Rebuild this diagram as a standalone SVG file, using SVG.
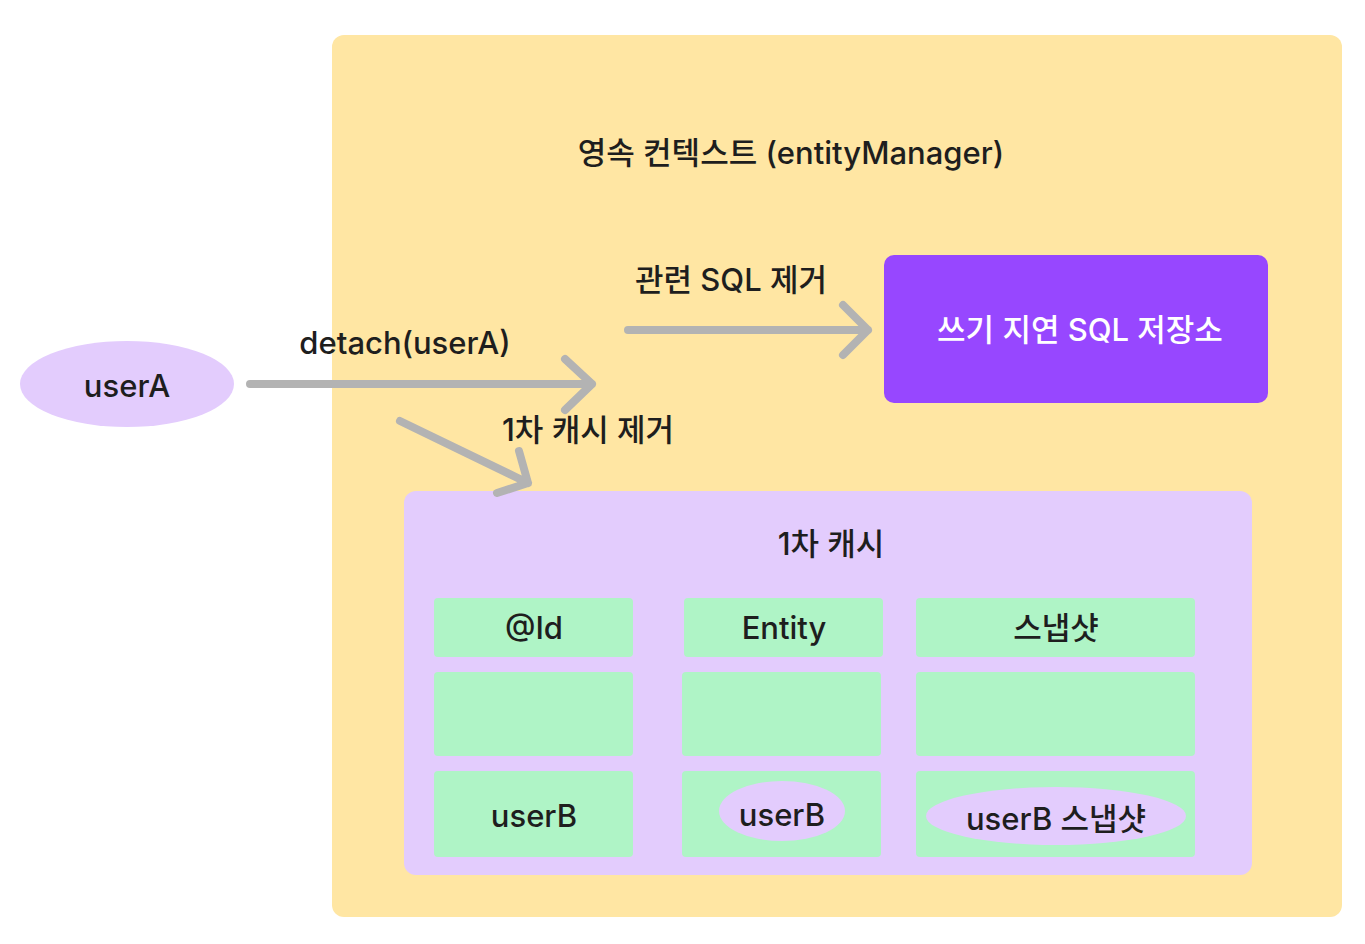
<svg xmlns="http://www.w3.org/2000/svg" width="1365" height="944" viewBox="0 0 1365 944">
<style>
text{font-family:Inter,"Noto Sans CJK KR",sans-serif;font-size:31px;font-weight:500;fill:#1E1E1E;text-anchor:middle;dominant-baseline:central}
.cell{fill:#AFF4C6}
.lav{fill:#E3CCFD}
.arr{fill:none;stroke:#B3B3B3;stroke-width:8;stroke-linecap:round;stroke-linejoin:round}
</style>
<rect width="1365" height="944" fill="#FFFFFF"/>
<g id="context">
<rect x="332" y="35" width="1010" height="882" rx="12" fill="#FFE6A3"/>
<text x="791" y="152">영속 컨텍스트 (entityManager)</text>
</g>
<g id="userA">
<ellipse cx="127" cy="384" rx="107" ry="43" class="lav"/>
<text x="127" y="385">userA</text>
</g>
<g id="sqlstore">
<rect x="884" y="255" width="384" height="148" rx="10" fill="#9747FF"/>
<text x="1080" y="329" style="fill:#FFFFFF">쓰기 지연 SQL 저장소</text>
</g>
<g id="cache">
<rect x="404" y="491" width="848" height="384" rx="12" class="lav"/>
<text x="831" y="543">1차 캐시</text>
<rect x="434" y="598" width="199" height="59" rx="4" class="cell"/>
<rect x="684" y="598" width="199" height="59" rx="4" class="cell"/>
<rect x="916" y="598" width="279" height="59" rx="4" class="cell"/>
<rect x="434" y="672" width="199" height="84" rx="4" class="cell"/>
<rect x="682" y="672" width="199" height="84" rx="4" class="cell"/>
<rect x="916" y="672" width="279" height="84" rx="4" class="cell"/>
<rect x="434" y="771" width="199" height="86" rx="4" class="cell"/>
<rect x="682" y="771" width="199" height="86" rx="4" class="cell"/>
<rect x="916" y="771" width="279" height="86" rx="4" class="cell"/>
<text x="534" y="627">@Id</text>
<text x="784" y="627">Entity</text>
<text x="1056" y="627">스냅샷</text>
<text x="534" y="815">userB</text>
<ellipse cx="782" cy="811" rx="63" ry="30" class="lav"/>
<text x="782" y="814">userB</text>
<ellipse cx="1056" cy="816" rx="130" ry="29" class="lav"/>
<text x="1056" y="818">userB 스냅샷</text>
</g>
<g id="connectors">
<path class="arr" d="M250 384 H592 M565 359 L592 384 L565 410"/>
<path class="arr" d="M628 330 H868 M843 305 L868 330 L843 355"/>
<path class="arr" d="M400 421 L528 483 M519 451 L528 483 L497 493"/>
<text x="405" y="342">detach(userA)</text>
<text x="731" y="279">관련 SQL 제거</text>
<text x="588" y="429">1차 캐시 제거</text>
</g>
</svg>
